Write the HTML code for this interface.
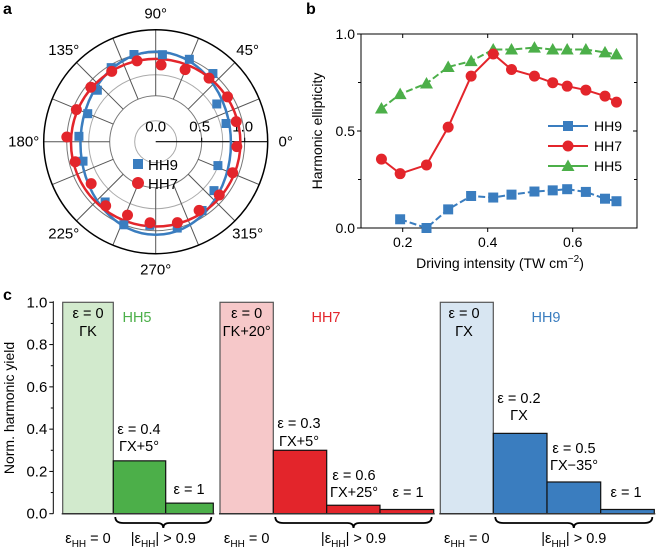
<!DOCTYPE html>
<html><head><meta charset="utf-8">
<style>
html,body{margin:0;padding:0;background:#fff;}
svg{display:block;font-family:"Liberation Sans",Arial,sans-serif;}
</style></head>
<body>
<svg id="fig" width="656" height="549" viewBox="0 0 656 549" xmlns="http://www.w3.org/2000/svg">
<text x="3" y="14" font-size="16" font-weight="bold">a</text>
<text x="306" y="14" font-size="16" font-weight="bold">b</text>
<text x="3" y="300" font-size="16" font-weight="bold">c</text>
<g id="pa"></g>
<g id="pb"></g>
<g id="pc"></g>
</svg>
<script>
// ---------- Panel a data ----------
const hh9Angles = [85.6,67.8,50,31.7,14.5,-21,-40,-56,-76,-94,-111,-130,-165,176,157.6,138.6,121,104];
const hh9Vals   = [0.98,1.0,1.0,0.80,0.81,0.74,0.85,0.93,1.0,0.94,1.0,0.88,0.84,0.86,0.82,0.87,0.97,1.01];
const hh7Angles = [86,67.8,50,32,14,-3.5,-22,-40,-57.7,-75,-94,-111,-128,-147,-166,177,158,140,122,103];
const hh7Vals   = [0.86,0.87,0.93,0.95,0.93,0.91,0.93,0.93,0.91,0.94,0.91,0.88,0.91,0.86,0.93,1.0,0.96,0.95,0.93,0.93];
const fitHH9 = [0.84, 1.03];   // horizontal, vertical
const fitHH7 = [0.95, 0.94];
const radialTicks = ["0.0","0.5","1.0"];
const radialTickVals = [0,0.5,1.0];
const angleLabels = [0,45,90,135,180,225,270,315];

// ---------- Panel b data ----------
const intensity = [0.150,0.194,0.256,0.307,0.361,0.413,0.456,0.510,0.553,0.587,0.631,0.676,0.703];
const ellHH5 = [0.616,0.69,0.745,0.83,0.86,0.92,0.92,0.93,0.92,0.92,0.92,0.905,0.895];
const ellHH7 = [0.355,0.28,0.325,0.52,0.783,0.897,0.817,0.783,0.749,0.731,0.711,0.68,0.649];
const ellHH9 = [null,0.045,0.0,0.096,0.165,0.157,0.172,0.188,0.194,0.2,0.186,0.151,0.138];
const xTicksB = [0.2,0.4,0.6];
const yTicksB = [0,0.5,1.0];

// ---------- Panel c data ----------
const yieldHH5 = [1.0,0.25,0.05];
const yieldHH7 = [1.0,0.30,0.04,0.02];
const yieldHH9 = [1.0,0.38,0.15,0.02];
const yTicksC = [0,0.2,0.4,0.6,0.8,1.0];

const NS="http://www.w3.org/2000/svg";
function mk(parent,tag,attrs,text){const e=document.createElementNS(NS,tag);for(const k in attrs)e.setAttribute(k,attrs[k]);if(text!==undefined)e.textContent=text;parent.appendChild(e);return e;}

const BLUE="#3a7dbf",RED="#e3252b",GREEN="#4caf49";

// ===== Panel a =====
(function(){
  const g=document.getElementById('pa');
  const cx=155.7,cy=141.7,R=112;
  const rS=v=>3+86*v;
  [21,46,67,89].forEach(r=>{const c=mk(g,'circle',{cx,cy,r,fill:'none',stroke:(r==46||r==89)?'#777':'#aaa','stroke-width':1});
    
    });
  for(let a=22.5;a<360;a+=22.5){const t=a*Math.PI/180;
    const l=mk(g,'line',{x1:cx+46*Math.cos(t),y1:cy-46*Math.sin(t),x2:cx+R*Math.cos(t),y2:cy-R*Math.sin(t),stroke:'#555','stroke-width':1});
    
    }
  const ax=mk(g,'line',{x1:cx,y1:cy,x2:cx+R,y2:cy,stroke:'#000','stroke-width':1.2});
  
  
  const oc=mk(g,'circle',{cx,cy,r:R,fill:'none',stroke:'#000','stroke-width':1.5});
  
  
  radialTickVals.forEach((v,i)=>{const x=cx+rS(v);
    if(v>0){const tk=mk(g,'line',{x1:x,y1:cy-4,x2:x,y2:cy,stroke:'#000'});
      
      }
    const t=mk(g,'text',{x:v==0?cx:x-2,y:cy-10,'font-size':15,'text-anchor':'middle'},radialTicks[i]);
    
    });
  angleLabels.forEach(a=>{const t=a*Math.PI/180,rr=a%90==0?128:130;
    let x=cx+rr*Math.cos(t),y=cy-rr*Math.sin(t)+5;
    if(a==0)x+=2;if(a==180)x-=4;
    const e=mk(g,'text',{x,y,'font-size':15,'text-anchor':'middle'},a+'°');
    
    });
  const f9=mk(g,'ellipse',{cx,cy:cy+1.5,rx:rS(fitHH9[0]),ry:rS(fitHH9[1]),fill:'none',stroke:BLUE,'stroke-width':2.5});
  
  
  const f7=mk(g,'ellipse',{cx,cy:cy+1,rx:rS(fitHH7[0]),ry:rS(fitHH7[1]),fill:'none',stroke:RED,'stroke-width':2.5});
  
  
  hh9Angles.forEach((a,i)=>{const t=a*Math.PI/180,r=rS(hh9Vals[i]);
    const s=mk(g,'rect',{x:cx+r*Math.cos(t)-4.5,y:cy-r*Math.sin(t)-4.5,width:9,height:9,fill:BLUE});
    
    });
  hh7Angles.forEach((a,i)=>{const t=a*Math.PI/180,r=rS(hh7Vals[i]);
    const c=mk(g,'circle',{cx:cx+r*Math.cos(t),cy:cy-r*Math.sin(t),r:5.5,fill:RED});
    
    });
  const l1=mk(g,'rect',{x:133,y:159,width:10,height:10,fill:BLUE});
  
  
  const l1t=mk(g,'text',{x:148,y:170,'font-size':15},'HH9');
  
  
  const l2=mk(g,'circle',{cx:138,cy:183,r:6,fill:RED});
  
  
  const l2t=mk(g,'text',{x:148,y:189,'font-size':15},'HH7');
  
  
})();

// ===== Panel b =====
(function(){
  const g=document.getElementById('pb');
  const L=361,Rt=637,T=34,B=228;
  const xS=v=>317.7+425*v, yS=v=>B-(B-T)*v;
  const fr=mk(g,'rect',{x:L,y:T,width:Rt-L,height:B-T,fill:'none',stroke:'#000','stroke-width':1});
  
  
  xTicksB.forEach(v=>{const x=xS(v);
    mk(g,'line',{x1:x,y1:B,x2:x,y2:B+4,stroke:'#000'});
    mk(g,'line',{x1:x,y1:T,x2:x,y2:T+4,stroke:'#000'});
    const t=mk(g,'text',{x,y:B+19,'font-size':14,'text-anchor':'middle'},v.toFixed(1));
    
    });
  [0.25,0.75].forEach(v=>{mk(g,'line',{x1:L-3,y1:yS(v),x2:L,y2:yS(v),stroke:'#000'});mk(g,'line',{x1:Rt,y1:yS(v),x2:Rt-3,y2:yS(v),stroke:'#000'});});
  yTicksB.forEach(v=>{const y=yS(v);
    mk(g,'line',{x1:L-4,y1:y,x2:L,y2:y,stroke:'#000'});
    mk(g,'line',{x1:Rt,y1:y,x2:Rt-4,y2:y,stroke:'#000'});
    const t=mk(g,'text',{x:L-6,y:y+5,'font-size':14,'text-anchor':'end'},v.toFixed(1));
    
    });
  const yt=mk(g,'text',{x:0,y:0,'font-size':14,'text-anchor':'middle',transform:'translate(322,131) rotate(-90)'},'Harmonic ellipticity');
  
  
  const xt=mk(g,'text',{x:500,y:268,'font-size':14,'text-anchor':'middle'});
  
  
  xt.innerHTML='Driving intensity (TW cm<tspan dy="-6" font-size="10">−2</tspan><tspan dy="6">)</tspan>';
  function series(vals,color,marker,name,dash){
    const pts=[];vals.forEach((v,i)=>{if(v!==null)pts.push([xS(intensity[i]),yS(v)]);});
    const p=mk(g,'polyline',{points:pts.map(p=>p.join(',')).join(' '),fill:'none',stroke:color,'stroke-width':2,'stroke-dasharray':dash});
    
    
    pts.forEach(([x,y])=>{const m=drawMarker(x,y,color,marker);
      
      });
  }
  function drawMarker(x,y,color,marker){
    if(marker=='s')return mk(g,'rect',{x:x-5,y:y-5,width:10,height:10,fill:color});
    if(marker=='c')return mk(g,'circle',{cx:x,cy:y,r:5.5,fill:color});
    return mk(g,'polygon',{points:`${x},${y-6.5} ${x+6.5},${y+5} ${x-6.5},${y+5}`,fill:color});
  }
  series(ellHH5,GREEN,'t','hh5','7,3');
  series(ellHH7,RED,'c','hh7','none');
  series(ellHH9,BLUE,'s','hh9','7,3');
  [['HH9',BLUE,'s',126],['HH7',RED,'c',146],['HH5',GREEN,'t',166]].forEach(([n,c,m,y])=>{
    const ln=mk(g,'line',{x1:548,y1:y,x2:588,y2:y,stroke:c,'stroke-width':2});
    
    
    drawMarker(568,y,c,m);
    const t=mk(g,'text',{x:594,y:y+5,'font-size':14},n);
    
    });
})();

// ===== Panel c =====
(function(){
  const g=document.getElementById('pc');
  const AX=53.3,B=513.7,T=302.3;
  const yS=v=>B-(B-T)*v;
  const ax=mk(g,'line',{x1:AX,y1:T-1,x2:AX,y2:B,stroke:'#000'});
  
  
  for(let v=0.1;v<1;v+=0.2)mk(g,'line',{x1:AX-2.5,y1:yS(v),x2:AX,y2:yS(v),stroke:'#000'});
  yTicksC.forEach(v=>{mk(g,'line',{x1:AX-4,y1:yS(v),x2:AX,y2:yS(v),stroke:'#000'});
    const t=mk(g,'text',{x:AX-6,y:yS(v)+5,'font-size':15,'text-anchor':'end'},v.toFixed(1));
    
    });
  const yt=mk(g,'text',{x:0,y:0,'font-size':14,'text-anchor':'middle',transform:'translate(14,408) rotate(-90)'},'Norm. harmonic yield');
  
  
  const groups=[
    {vals:yieldHH5,x0:62.7,w:[50.6,52.4,47.6],c:GREEN,lc:'#d2eacd',n:'hh5'},
    {vals:yieldHH7,x0:220,w:[53.3,53.4,53.3,53.7],c:RED,lc:'#f6c8c9',n:'hh7'},
    {vals:yieldHH9,x0:440.3,w:[53,53.7,53.7,53.6],c:BLUE,lc:'#d8e6f2',n:'hh9'}];
  groups.forEach(gr=>{let x=gr.x0;
    gr.vals.forEach((v,i)=>{const r=mk(g,'rect',{x,y:yS(v),width:gr.w[i],height:B-yS(v),fill:i==0?gr.lc:gr.c,stroke:i==0?'#555':'#111','stroke-width':1.2});
      
      
      x+=gr.w[i];});
    const bl=mk(g,'line',{x1:gr.x0-1,y1:B,x2:x+1,y2:B,stroke:'#333','stroke-width':1.5});
    
    
    const bx0=gr.x0+gr.w[0]+2,bx1=x-2,m=(bx0+bx1)/2,y0=517;
    const br=mk(g,'path',{d:`M${bx0},${y0} Q${bx0},${y0+6} ${bx0+8},${y0+6} L${m-6},${y0+6} Q${m},${y0+6} ${m},${y0+11} Q${m},${y0+6} ${m+6},${y0+6} L${bx1-8},${y0+6} Q${bx1},${y0+6} ${bx1},${y0}`,fill:'none',stroke:'#000','stroke-width':1.8});
    
    
    const t1=mk(g,'text',{x:gr.x0+gr.w[0]/2,y:543,'font-size':14.5,'text-anchor':'middle'});
    t1.innerHTML='ε<tspan dy="4" font-size="10">HH</tspan><tspan dy="-4"> = 0</tspan>';
    
    
    const t2=mk(g,'text',{x:m,y:543,'font-size':14.5,'text-anchor':'middle'});
    t2.innerHTML='|ε<tspan dy="4" font-size="10">HH</tspan><tspan dy="-4">| &gt; 0.9</tspan>';
    
    
  });
  const labels=[
    ['ε = 0',88,318,'#000'],['ΓK',88,336,'#000'],['HH5',137,322,GREEN],
    ['ε = 0.4',139,434,'#000'],['ΓX+5°',139,451,'#000'],['ε = 1',189,494,'#000'],
    ['ε = 0',246.7,318,'#000'],['ΓK+20°',246.7,336,'#000'],['HH7',326,322,RED],
    ['ε = 0.3',299,428,'#000'],['ΓX+5°',299,446,'#000'],
    ['ε = 0.6',354,480,'#000'],['ΓX+25°',354,497,'#000'],['ε = 1',408,497,'#000'],
    ['ε = 0',464,318,'#000'],['ΓX',464,336,'#000'],['HH9',546,322,BLUE],
    ['ε = 0.2',519,403,'#000'],['ΓX',519,420,'#000'],
    ['ε = 0.5',574,453,'#000'],['ΓX−35°',574,470,'#000'],['ε = 1',626,497,'#000']];
  labels.forEach(([s,x,y,c])=>{const t=mk(g,'text',{x,y,'font-size':14.5,'text-anchor':'middle',fill:c},s);
    
    });
})();
</script>
</body></html>
